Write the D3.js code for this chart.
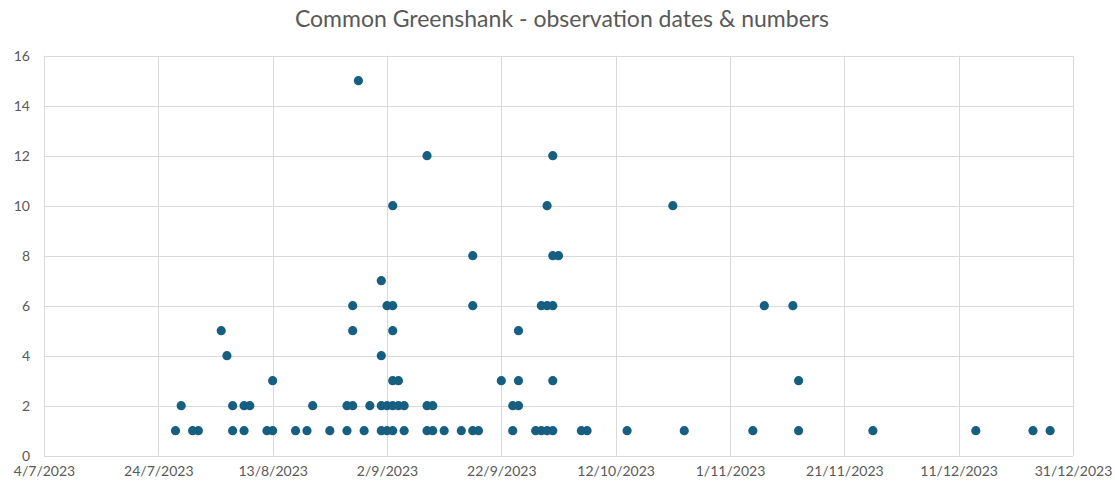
<!DOCTYPE html>
<html>
<head>
<meta charset="utf-8">
<script src="https://cdn.jsdelivr.net/npm/d3@7"></script>
<style>
  html, body { margin: 0; padding: 0; background: #fff; }
  svg { display: block; }
  text { font-family: Lato, "Open Sans", sans-serif; }
</style>
</head>
<body>
<svg id="chart" width="1115" height="486"></svg>
<script>
const chartTitle = "Common Greenshank - observation dates & numbers";

// Observation dates (x) and numbers of birds (y)
const obsDates = [
  "2023-07-27","2023-07-28","2023-07-30","2023-07-31",
  "2023-08-04","2023-08-05","2023-08-06","2023-08-06","2023-08-08","2023-08-08","2023-08-09",
  "2023-08-12","2023-08-13","2023-08-13","2023-08-17","2023-08-19","2023-08-20","2023-08-23",
  "2023-08-26","2023-08-26","2023-08-27","2023-08-27","2023-08-27","2023-08-28","2023-08-29","2023-08-30",
  "2023-09-01","2023-09-01","2023-09-01","2023-09-01",
  "2023-09-02","2023-09-02","2023-09-02",
  "2023-09-03","2023-09-03","2023-09-03","2023-09-03","2023-09-03","2023-09-03",
  "2023-09-04","2023-09-04","2023-09-05","2023-09-05",
  "2023-09-09","2023-09-09","2023-09-09","2023-09-10","2023-09-10",
  "2023-09-12","2023-09-15","2023-09-17","2023-09-17","2023-09-17","2023-09-18",
  "2023-09-22","2023-09-24","2023-09-24","2023-09-25","2023-09-25","2023-09-25",
  "2023-09-28","2023-09-29","2023-09-29","2023-09-30","2023-09-30","2023-09-30",
  "2023-10-01","2023-10-01","2023-10-01","2023-10-01","2023-10-01","2023-10-02",
  "2023-10-06","2023-10-07","2023-10-14","2023-10-22","2023-10-24",
  "2023-11-05","2023-11-07","2023-11-12","2023-11-13","2023-11-13",
  "2023-11-26","2023-12-14","2023-12-24","2023-12-27"
];
const obsCounts = [
  1,2,1,1,
  5,4,1,2,1,2,2,
  1,1,3,1,1,2,1,
  1,2,2,5,6,15,1,2,
  1,2,4,7,
  1,2,6,
  1,2,3,5,6,10,
  2,3,1,2,
  1,2,12,1,2,
  1,1,1,6,8,1,
  3,1,2,2,3,5,
  1,1,6,1,6,10,
  1,3,6,12,8,8,
  1,1,1,10,1,
  1,6,6,1,3,
  1,1,1,1
];

const xTickLabels = ["4/7/2023","24/7/2023","13/8/2023","2/9/2023","22/9/2023","12/10/2023","1/11/2023","21/11/2023","11/12/2023","31/12/2023"];
const yTickValues = [0,2,4,6,8,10,12,14,16];

const parse = d3.timeParse("%Y-%m-%d");
const parseTick = d3.timeParse("%d/%m/%Y");
const tickDates = xTickLabels.map(parseTick);
const points = obsDates.map((d, i) => ({ date: parse(d), n: obsCounts[i] }));

const svg = d3.select("#chart");
const W = 1115, H = 486;
const margin = { left: 44, right: W - 1073, top: 55.7, bottom: H - 455.7 };

const x = d3.scaleTime()
  .domain([tickDates[0], tickDates[tickDates.length - 1]])
  .range([margin.left, W - margin.right]);
const y = d3.scaleLinear().domain([0, 16]).range([H - margin.bottom, margin.top]);

// Title
svg.append("text")
  .attr("x", 562).attr("y", 27)
  .attr("text-anchor", "middle")
  .attr("font-size", 23)
  .attr("fill", "#595959")
  .text(chartTitle);

// Horizontal gridlines
svg.append("g").selectAll("line").data(yTickValues).join("line")
  .attr("x1", x.range()[0]).attr("x2", x.range()[1])
  .attr("y1", d => Math.round(y(d)) + 0.5).attr("y2", d => Math.round(y(d)) + 0.5)
  .attr("stroke", "#d9d9d9").attr("stroke-width", 1);

// Vertical gridlines
svg.append("g").selectAll("line").data(tickDates).join("line")
  .attr("x1", d => Math.round(x(d)) + 0.5).attr("x2", d => Math.round(x(d)) + 0.5)
  .attr("y1", y(16)).attr("y2", y(0))
  .attr("stroke", "#d9d9d9").attr("stroke-width", 1);

// Y axis labels
const yAxis = d3.axisLeft(y).tickValues(yTickValues).tickSize(0).tickPadding(0);
const gy = svg.append("g").attr("transform", `translate(${margin.left - 14},0)`).call(yAxis);
gy.select(".domain").remove();
gy.selectAll("text").attr("font-size", 14).attr("fill", "#595959").attr("font-family", "Lato, sans-serif");

// X axis labels
const xAxis = d3.axisBottom(x).tickValues(tickDates).tickSize(0).tickPadding(0)
  .tickFormat((d, i) => xTickLabels[i]);
const gx = svg.append("g").attr("transform", `translate(0,${y(0) + 10})`).call(xAxis);
gx.select(".domain").remove();
gx.selectAll("text").attr("font-size", 14).attr("fill", "#595959").attr("font-family", "Lato, sans-serif");

// Points
svg.append("g").selectAll("circle").data(points).join("circle")
  .attr("cx", d => x(d.date))
  .attr("cy", d => y(d.n))
  .attr("r", 4.6)
  .attr("fill", "#175f80");
</script>
</body>
</html>
